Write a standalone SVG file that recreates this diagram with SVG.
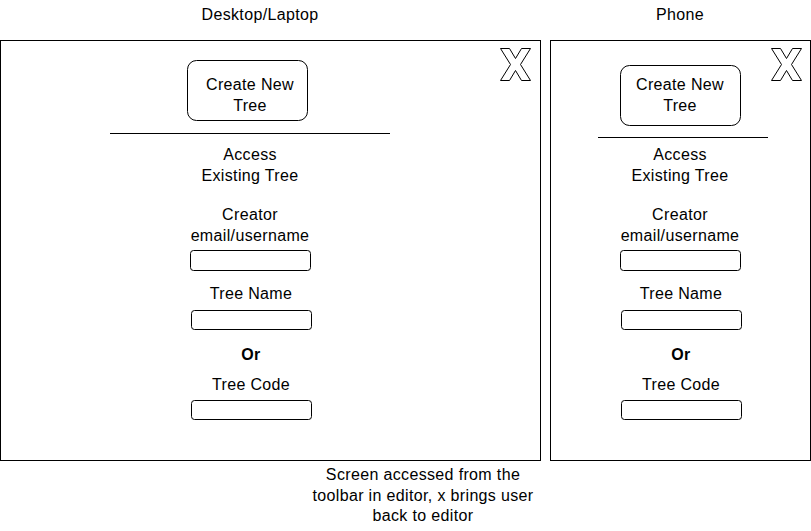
<svg xmlns="http://www.w3.org/2000/svg" width="811" height="531" viewBox="0 0 811 531">
<style>
.frame{fill:#fff;stroke:#000;stroke-width:1}
.btn{fill:#fff;stroke:#000;stroke-width:1}
.inp{fill:#fff;stroke:#000;stroke-width:1}
.sep{stroke:#000;stroke-width:1}
.x{fill:#fff;stroke:#000;stroke-width:1;stroke-linejoin:miter}
text{font-family:"Liberation Sans",Arial,sans-serif;font-size:16px;letter-spacing:0.35px;fill:#000;text-anchor:middle}
.b{font-weight:bold}
</style>
<defs>
<polygon id="xicon" points="0,0 9,0 15,10 21,0 30,0 20,16 30,32 21,32 15,22 9,32 0,32 10,16"/>
</defs>
<rect width="811" height="531" fill="#fff"/>
<g id="title-desktop"><text x="260" y="20">Desktop/Laptop</text></g>
<g id="title-phone"><text x="680" y="20">Phone</text></g>

<g id="desktop">
<rect class="frame" x="0.5" y="40.5" width="540" height="420"/>
<g id="desktop-close"><use href="#xicon" class="x" transform="translate(500.5,48.5)"/></g>
<g id="desktop-create"><rect class="btn" x="187.5" y="60.5" width="120" height="60" rx="9"/><text x="250" y="90">Create New</text><text x="250" y="111">Tree</text></g>
<line class="sep" x1="110" y1="133.5" x2="390" y2="133.5"/>
<g id="desktop-access"><text x="250" y="160">Access</text><text x="250" y="181">Existing Tree</text></g>
<g id="desktop-creator"><text x="250" y="220">Creator</text><text x="250" y="241">email/username</text><rect class="inp" x="190.5" y="250.5" width="120" height="20" rx="3"/></g>
<g id="desktop-treename"><text x="251" y="299">Tree Name</text><rect class="inp" x="191.5" y="310.5" width="120" height="19" rx="3"/></g>
<g id="desktop-or"><text class="b" x="251" y="360">Or</text></g>
<g id="desktop-treecode"><text x="251" y="390">Tree Code</text><rect class="inp" x="191.5" y="400.5" width="120" height="19" rx="3"/></g>
</g>

<g id="phone">
<rect class="frame" x="550.5" y="40.5" width="260" height="420"/>
<g id="phone-close"><use href="#xicon" class="x" transform="translate(771.5,48.5)"/></g>
<g id="phone-create"><rect class="btn" x="620.5" y="65.5" width="120" height="60" rx="9"/><text x="680" y="90">Create New</text><text x="680" y="111">Tree</text></g>
<line class="sep" x1="598" y1="137.5" x2="768" y2="137.5"/>
<g id="phone-access"><text x="680" y="160">Access</text><text x="680" y="181">Existing Tree</text></g>
<g id="phone-creator"><text x="680" y="220">Creator</text><text x="680" y="241">email/username</text><rect class="inp" x="620.5" y="250.5" width="120" height="20" rx="3"/></g>
<g id="phone-treename"><text x="681" y="299">Tree Name</text><rect class="inp" x="621.5" y="310.5" width="120" height="19" rx="3"/></g>
<g id="phone-or"><text class="b" x="681" y="360">Or</text></g>
<g id="phone-treecode"><text x="681" y="390">Tree Code</text><rect class="inp" x="621.5" y="400.5" width="120" height="19" rx="3"/></g>
</g>

<g id="note"><text x="423" y="480">Screen accessed from the</text><text x="423" y="501">toolbar in editor, x brings user</text><text x="423" y="521">back to editor</text></g>
<g id="connectors"></g>
</svg>
